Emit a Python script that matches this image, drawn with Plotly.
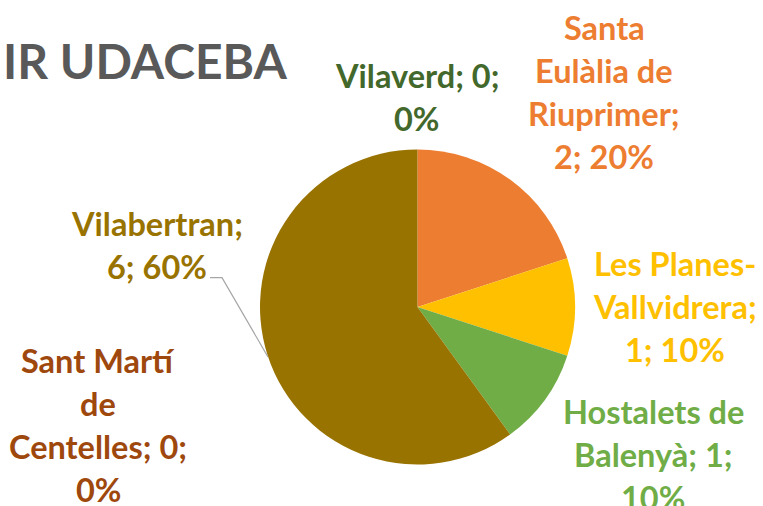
import plotly.graph_objects as go

W, H = 763, 506

# ---- data ----
categories = ["Santa Eulàlia de Riuprimer", "Les Planes-Vallvidrera", "Hostalets de Balenyà",
              "Vilabertran", "Sant Martí de Centelles", "Vilaverd"]
values = [2, 1, 1, 6, 0, 0]
colors = ["#ED7D31", "#FFC000", "#70AD47", "#997300", "#9E480E", "#43682B"]
title_text = "IR UDACEBA"

total = sum(values)
pcts = [round(v * 100 / total) for v in values]

# wrapped label lines (as Excel wrapped them)
label_lines = [
    ["Santa", "Eulàlia de", "Riuprimer;", f"{values[0]}; {pcts[0]}%"],
    ["Les Planes-", "Vallvidrera;", f"{values[1]}; {pcts[1]}%"],
    ["Hostalets de", f"Balenyà; {values[2]};", f"{pcts[2]}%"],
    ["Vilabertran;", f"{values[3]}; {pcts[3]}%"],
    ["Sant Martí", "de", f"Centelles; {values[4]};", f"{pcts[4]}%"],
    [f"Vilaverd; {values[5]};", f"{pcts[5]}%"],
]

# ---- layout geometry (pixels) ----
cx, cy, r = 417.5, 307, 157.5
label_pos = [  # (center x, first baseline y) in px
    (604, 39),
    (675, 275),
    (653, 423),
    (157, 235),
    (98, 372),
    (417, 87),
]
line_gap = 43
font_size = 32.5
FONT = "Lato"

def px(x):
    return x / W

def py(y):
    return 1 - y / H

fig = go.Figure(go.Pie(
    labels=categories,
    values=values,
    marker=dict(colors=colors, line=dict(width=0)),
    sort=False,
    direction="clockwise",
    rotation=0,
    textinfo="none",
    hoverinfo="label+value+percent",
    showlegend=False,
    domain=dict(x=[px(cx - r), px(cx + r)], y=[py(cy + r), py(cy - r)]),
))

annotations = [dict(
    text=f"<b>{title_text}</b>", x=px(1), y=py(60.5), xref="paper", yref="paper",
    xanchor="left", yanchor="middle", showarrow=False,
    font=dict(family=FONT, size=48, color="#595959"),
)]
cap = 0.70 * font_size
for lines, (lx, ly), col in zip(label_lines, label_pos, colors):
    for i, t in enumerate(lines):
        yb = ly + i * line_gap
        annotations.append(dict(
            text=f"<b>{t}</b>", x=px(lx), y=py(yb - cap / 2), xref="paper", yref="paper",
            xanchor="center", yanchor="middle", showarrow=False,
            font=dict(family=FONT, size=font_size, color=col),
        ))

fig.update_layout(
    width=W, height=H,
    margin=dict(l=0, r=0, t=0, b=0),
    paper_bgcolor="white",
    plot_bgcolor="white",
    annotations=annotations,
    shapes=[dict(
        type="path", xref="paper", yref="paper",
        path=f"M {px(210)} {py(277.7)} L {px(222)} {py(277.7)} L {px(268)} {py(357)}",
        line=dict(color="#A6A6A6", width=1.2),
    )],
)

fig.write_html("out.html", config={"displayModeBar": False})

# remove default page margin so the figure sits at the window's top-left corner
with open("out.html", encoding="utf-8") as f:
    html = f.read()
html = html.replace("<head>", "<head><style>html,body{margin:0;padding:0;overflow:hidden;}</style>", 1)
with open("out.html", "w", encoding="utf-8") as f:
    f.write(html)
